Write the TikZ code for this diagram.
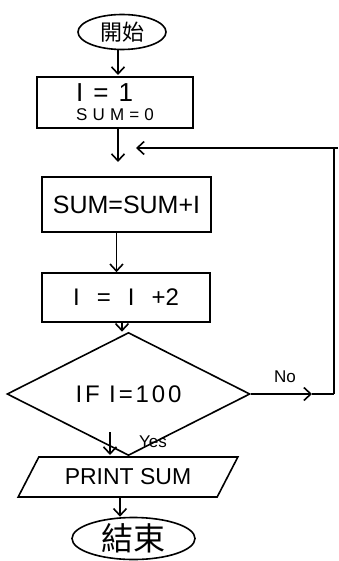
\documentclass[tikz,border=0pt]{standalone}
\usepackage{fontspec}
\setmainfont{Liberation Sans}
\newfontfamily\cjk{Noto Sans CJK TC}
\usetikzlibrary{arrows.meta,shapes.geometric}
\begin{document}
\begin{tikzpicture}[x=1pt,y=-1pt,line width=1.6pt,
  flow/.style={draw,rectangle,inner sep=0pt},
  term/.style={draw,ellipse,inner sep=0pt},
  arr/.style={-{Straight Barb[length=7pt,width=13pt,line width=1.6pt]}},
  lbl/.style={font=\fontsize{17}{17}\selectfont}]
\useasboundingbox (0,0) rectangle (338,561);
% nodes
\node[term,minimum width=88pt,minimum height=35pt] (start) at (122,32)
  {\cjk\fontsize{22}{22}\selectfont 開始};
\node[flow,minimum width=156pt,minimum height=51pt,align=left,
  font=\fontsize{17}{19}\selectfont] (init) at (115,102.5)
  {{\fontsize{26}{26}\selectfont\spaceskip=10pt I = 1}\\{\addfontfeature{LetterSpace=30}SUM=0}};
\node[flow,minimum width=169pt,minimum height=55pt] (sum) at (126.5,204.5)
  {\fontsize{25}{25}\selectfont SUM=SUM+I};
\node[flow,minimum width=168pt,minimum height=49pt] (inc) at (126,297.5)
  {\fontsize{24}{24}\selectfont\spaceskip=17pt I = I +2};
\node[draw,diamond,inner sep=0pt,minimum width=243pt,minimum height=80pt] (dec) at (128.5,394)
  {\fontsize{24}{24}\selectfont\addfontfeature{LetterSpace=12}IF I=100};
\node[draw,trapezium,trapezium left angle=48,trapezium right angle=132,
  trapezium stretches=true,inner sep=0pt,minimum width=220pt,minimum height=40pt] (out) at (128,477)
  {\fontsize{23}{23}\selectfont PRINT SUM};
\node[term,minimum width=123pt,minimum height=42pt] (stop) at (133.5,538.5)
  {\cjk\fontsize{32}{32}\selectfont 結束};
% coordinates
\coordinate (join) at (118,162);
\coordinate (loopend) at (136,148);
\coordinate (noarr) at (312,394);
\coordinate (c1) at (334,394);
\coordinate (c2) at (334,148);
\coordinate (c3) at (338,148);
% connectors
\draw[arr] (start.south -| 118,0) -- (118,75);
\draw[arr] (118,0 |- init.south) -- (join);
\draw (c2) -- (c3);
\draw[arr] (c1) -- (c2) -- (loopend);
\draw[arr] ([xshift=-10pt]sum.south) -- ([xshift=-10pt]sum.south |- inc.north);
\draw[arr] ([xshift=-4pt]inc.south) -- ([xshift=-4pt]inc.south |- dec.north);
\draw[arr] (dec.east) -- (noarr);
\draw (noarr) -- (c1);
\node[lbl] (nolbl) at (285,377) {No};
\draw[arr] (110,432) -- (110,455);
\node[lbl] (yeslbl) at (153,442) {Yes};
\draw[arr] (120,0 |- out.south) -- (120,0 |- stop.north);
\end{tikzpicture}
\end{document}
